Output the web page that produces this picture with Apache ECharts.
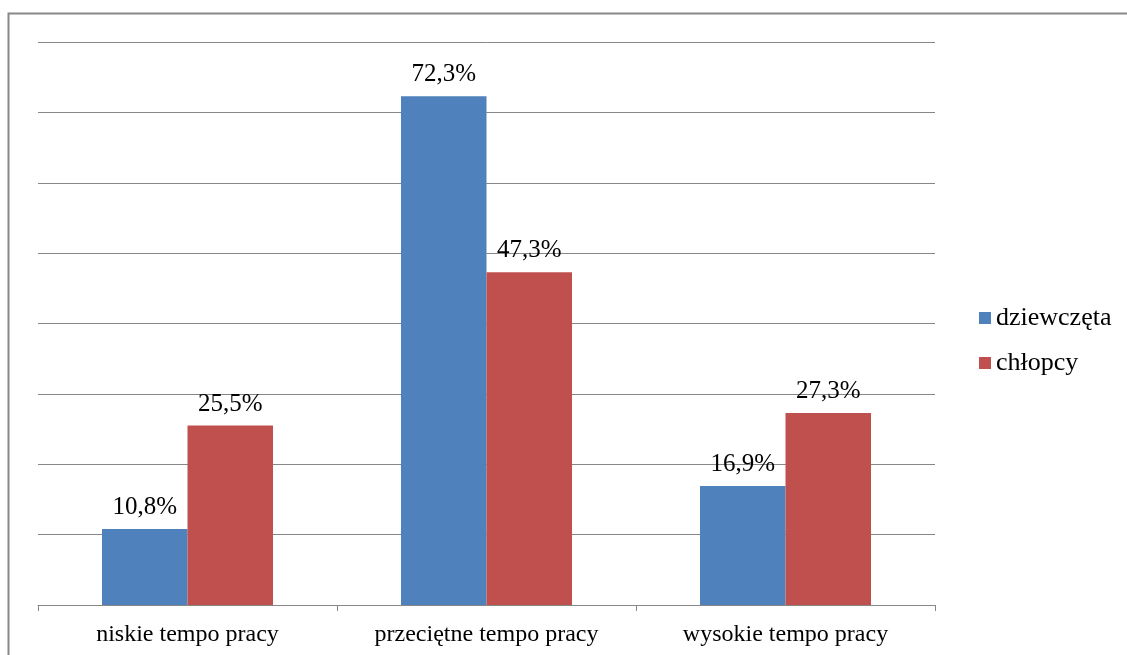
<!DOCTYPE html>
<html>
<head>
<meta charset="utf-8">
<script src="https://cdn.jsdelivr.net/npm/echarts@6/dist/echarts.min.js"></script>
<style>
  html, body { margin: 0; padding: 0; background: #fff; }
  #chart { width: 1127px; height: 655px; }
</style>
</head>
<body>
<div id="chart"></div>
<script>
// Tempo pracy – odsetek uczniów wg płci
const categories = ['niskie tempo pracy', 'przeciętne tempo pracy', 'wysokie tempo pracy'];
const seriesNames = ['dziewczęta', 'chłopcy'];
const dziewczeta = [10.8, 72.3, 16.9];
const chlopcy = [25.5, 47.3, 27.3];
const colors = ['#4F81BD', '#C0504D'];

const font = '"Liberation Serif", "Times New Roman", serif';
const fmt = p => p.value.toFixed(1).replace('.', ',') + '%';

const chart = echarts.init(document.getElementById('chart'));
chart.setOption({
  animation: false,
  textStyle: { fontFamily: font },
  graphic: [{
    type: 'rect',
    shape: { x: 8.5, y: 13.5, width: 1200, height: 700 },
    style: { fill: 'none', stroke: '#888888', lineWidth: 2 },
    silent: true
  }],
  grid: { left: 38, right: 192, top: 42, bottom: 50, containLabel: false },
  legend: {
    orient: 'vertical',
    left: 974,
    top: 300,
    itemWidth: 12,
    itemHeight: 12,
    itemGap: 19,
    icon: 'rect',
    textStyle: { fontFamily: font, fontSize: 26, color: '#000', padding: [0, 0, 0, 0] },
    data: seriesNames
  },
  xAxis: {
    type: 'category',
    data: categories,
    axisLine: { lineStyle: { color: '#878787', width: 1 } },
    axisTick: { show: true, length: 6, lineStyle: { color: '#878787' } },
    axisLabel: { fontFamily: font, fontSize: 24, color: '#000', margin: 18 }
  },
  yAxis: {
    type: 'value',
    min: 0,
    max: 80,
    interval: 10,
    axisLine: { show: false },
    axisTick: { show: false },
    axisLabel: { show: false },
    splitLine: { lineStyle: { color: '#878787', width: 1 } }
  },
  series: [
    {
      name: seriesNames[0],
      type: 'bar',
      data: dziewczeta,
      barGap: '0%',
      barCategoryGap: '42.8%',
      itemStyle: { color: colors[0] },
      label: { show: true, position: 'top', distance: 9, formatter: fmt, fontFamily: font, fontSize: 25, color: '#000' }
    },
    {
      name: seriesNames[1],
      type: 'bar',
      data: chlopcy,
      barGap: '0%',
      barCategoryGap: '42.8%',
      itemStyle: { color: colors[1] },
      label: { show: true, position: 'top', distance: 9, formatter: fmt, fontFamily: font, fontSize: 25, color: '#000' }
    }
  ]
});
</script>
</body>
</html>
